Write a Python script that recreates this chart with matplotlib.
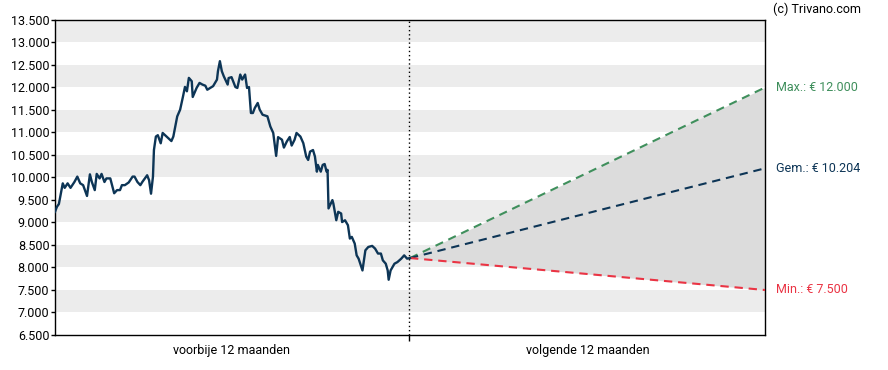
import numpy as np
import matplotlib
matplotlib.use("Agg")
import matplotlib.pyplot as plt

plt.rcParams['font.family'] = ['Roboto', 'DejaVu Sans']

# --- data ---------------------------------------------------------------
days = [0, 2, 4, 8, 10, 13, 16, 20, 23, 26, 29, 33, 36, 38, 41, 43, 46, 48, 51, 53,
        57, 61, 64, 67, 69, 72, 76, 80, 82, 85, 88, 90, 95, 97, 99, 101, 102, 104, 106, 109,
        111, 115, 120, 122, 126, 129, 132, 134, 136, 138, 141, 142, 146, 149, 152, 155, 157, 160, 163, 167,
        168, 170, 172, 174, 178, 179, 182, 186, 188, 191, 193, 196, 198, 200, 202, 204, 206, 209, 211, 214,
        219, 222, 225, 228, 230, 234, 236, 239, 242, 244, 247, 249, 253, 256, 259, 261, 263, 266, 268, 270,
        271, 274, 276, 278, 280, 281, 282, 286, 287, 290, 292, 295, 296, 299, 302, 304, 306, 309, 311, 313,
        317, 320, 323, 327, 330, 333, 336, 338, 341, 343, 344, 346, 350, 353, 357, 360, 363, 366]
prices = [9237, 9350, 9410, 9870, 9770, 9870, 9770, 9900, 10020, 9870, 9830, 9590, 10070, 9900, 9720, 10080, 9980, 10080, 9900, 9980,
          9980, 9650, 9720, 9720, 9830, 9830, 9890, 10020, 10020, 9900, 9830, 9900, 10050, 9940, 9640, 10020, 10610, 10910, 10940, 10760,
          10990, 10910, 10810, 10910, 11357, 11507, 11804, 12014, 11915, 12214, 12139, 11790, 11991, 12102, 12065, 12040, 11950, 11990, 12030, 12176,
          12362, 12585, 12362, 12250, 12065, 12210, 12230, 12010, 11990, 12288, 12176, 12288, 11990, 12010, 11433, 11433, 11545, 11656, 11510, 11395,
          11360, 11134, 10990, 10480, 10897, 10840, 10665, 10800, 10900, 10710, 10840, 10990, 10910, 10763, 10465, 10390, 10576, 10610, 10465, 10130,
          10280, 10130, 10280, 10300, 10130, 10170, 9313, 9498, 9420, 9051, 9237, 9200, 9010, 9050, 8940, 8643, 8680, 8532, 8270, 8197,
          7935, 8382, 8456, 8480, 8420, 8310, 8310, 8159, 8085, 7935, 7728, 7935, 8085, 8120, 8197, 8270, 8197, 8210]

forecast_end_day = 732
forecast_max = 12000
forecast_avg = 10204
forecast_min = 7500

period_labels = ["voorbije 12 maanden", "volgende 12 maanden"]
y_ticks = [6500, 7000, 7500, 8000, 8500, 9000, 9500, 10000, 10500, 11000, 11500, 12000, 12500, 13000, 13500]

# --- styles -------------------------------------------------------------
navy = "#0d3556"
green = "#3f8f5c"
red = "#ea3444"
band = "#ececec"
fillc = "#dcdcdc"

fig = plt.figure(figsize=(8.88, 3.70), dpi=100)
ax = fig.add_axes([55/888, 1-335/370, (765-55)/888, (335-20)/370])

ymin, ymax = 6500, 13500
ax.set_xlim(0, forecast_end_day)
ax.set_ylim(ymin, ymax)

# alternating bands
for lo in range(7000, 13500, 1000):
    ax.axhspan(lo, lo + 500, color=band, lw=0, zorder=0)

# projections (straight lines from last price to targets)
start_day = days[-1]
start_val = prices[-1]
fx = [start_day, forecast_end_day]
ymaxc = [start_val, forecast_max]
yavgc = [start_val, forecast_avg]
yminc = [start_val, forecast_min]
ax.fill_between(fx, yminc, ymaxc, color=fillc, lw=0, zorder=1)
dash = (4, 2.8)
ax.plot(fx, ymaxc, color=green, lw=1.5, dashes=dash, zorder=3)
ax.plot(fx, yavgc, color=navy, lw=1.5, dashes=dash, zorder=3)
ax.plot(fx, yminc, color=red, lw=1.5, dashes=dash, zorder=3)

# price line
ax.plot(days, prices, color=navy, lw=1.7, zorder=4, solid_joinstyle='round')

# divider
ax.axvline(365, color="black", lw=1, ls=(0, (1, 2)), zorder=5)

# axes styling
for s in ax.spines.values():
    s.set_color("black")
    s.set_linewidth(1)
ax.set_yticks(y_ticks)
ax.set_yticklabels([f"{v:,}".replace(",", ".") for v in y_ticks])
ax.tick_params(axis='y', length=3, width=1, pad=1, labelsize=9, colors="black")
ax.set_xticks([365])
ax.set_xticklabels([""])
ax.tick_params(axis='x', length=4, width=1)

ax.text(182, -0.03, period_labels[0], transform=ax.get_xaxis_transform(),
        ha='center', va='top', fontsize=9, color="black")
ax.text(549, -0.03, period_labels[1], transform=ax.get_xaxis_transform(),
        ha='center', va='top', fontsize=9, color="black")

# right-hand labels
def lab(v, txt, c):
    ax.annotate(txt, xy=(1, v), xycoords=('axes fraction', 'data'),
                xytext=(8, 0), textcoords='offset points', ha='left', va='center',
                fontsize=9, color=c, annotation_clip=False)
lab(forecast_max, "Max.: € 12.000", green)
lab(forecast_avg, "Gem.: € 10.204", navy)
lab(forecast_min, "Min.: € 7.500", red)

fig.text(773/888, 1-9/370, "(c) Trivano.com", ha='left', va='center', fontsize=9, color="black")

fig.savefig("out.png", dpi=100)
